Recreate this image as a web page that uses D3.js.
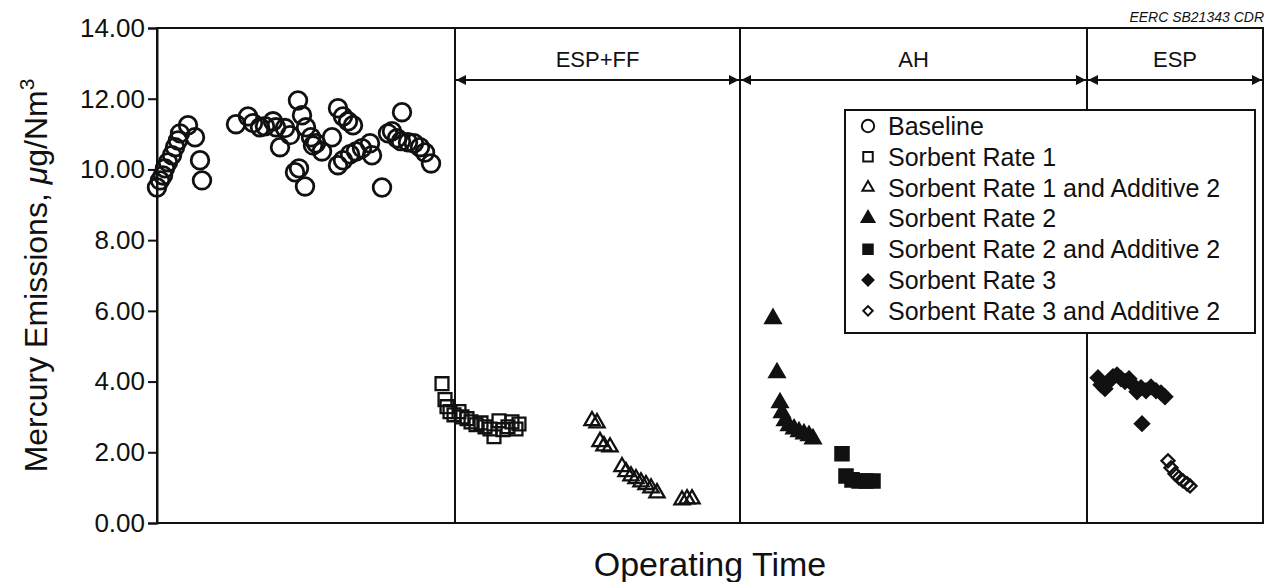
<!DOCTYPE html>
<html>
<head>
<meta charset="utf-8">
<script src="https://cdn.jsdelivr.net/npm/d3@7"></script>
<style>
  body { margin: 0; background: #fff; }
  text { font-family: "Liberation Sans", Arial, Helvetica, sans-serif; fill: #111; }
</style>
</head>
<body>
<svg id="chart"></svg>
<script>
// operating time (arbitrary units) vs mercury emissions, ug/Nm3
const baseline = [
  [0, 9.49], [1.5, 9.69], [3, 9.83], [4, 10.03], [5.5, 10.2], [7.5, 10.4], [9, 10.63],
  [10.5, 10.82], [11.5, 11.02], [15.5, 11.25], [19, 10.91], [21.5, 10.26], [22.5, 9.69],
  [39.5, 11.28], [45.5, 11.5], [48, 11.31], [51.5, 11.19], [54, 11.22], [58, 11.36],
  [59.5, 11.19], [61.5, 10.63], [64, 11.17], [66.5, 10.97], [69, 9.92], [70.5, 11.95],
  [71, 10.03], [72.5, 11.53], [74, 9.52], [74.5, 11.19], [77, 10.91], [78, 10.68],
  [79.5, 10.74], [82.5, 10.51], [87.5, 10.91], [90.5, 11.73], [90.5, 10.12], [93, 11.5],
  [93, 10.26], [95.5, 11.36], [96.5, 10.43], [98, 11.25], [99.5, 10.51], [102.5, 10.6],
  [106.5, 10.74], [107.5, 10.4], [112.5, 9.49], [115.5, 11.02], [117.5, 11.08], [120, 10.88],
  [122, 10.8], [122.5, 11.62], [125.5, 10.77], [128.5, 10.74], [131.5, 10.63], [134, 10.48],
  [137, 10.17]
];
const sorbent1 = [
  [142.5, 3.94], [144, 3.49], [145, 3.29], [146.5, 3.15], [148.5, 3.06], [151, 3.15],
  [152.5, 3.0], [155, 2.95], [157, 2.86], [159.5, 2.78], [162, 2.83], [164, 2.72],
  [166.5, 2.66], [168.5, 2.44], [171, 2.89], [173, 2.64], [175.5, 2.72], [177.5, 2.86],
  [179.5, 2.66], [181, 2.8]
];
const sorbent1Add2 = [
  [217.5, 2.89], [220, 2.83], [221.5, 2.3], [223.5, 2.18], [226.5, 2.15], [232.5, 1.59],
  [234.5, 1.45], [237, 1.33], [239.5, 1.25], [242, 1.16], [244.5, 1.08], [247, 0.99],
  [250, 0.85], [262.5, 0.65], [265, 0.68], [267.5, 0.68]
];
const sorbent2 = [
  [308, 5.78], [310, 4.25], [311.5, 3.4], [312.5, 3.12], [314, 2.89], [316, 2.75],
  [318.5, 2.66], [321, 2.58], [323.5, 2.52], [326, 2.47], [328, 2.38]
];
const sorbent2Add2 = [
  [342.5, 1.96], [344.5, 1.33], [347.5, 1.22], [351, 1.19], [354.5, 1.19], [358, 1.19]
];
const sorbent3 = [
  [470.5, 4.11], [472, 3.91], [474, 3.8], [476, 4.0], [478, 4.14], [480, 4.19], [482, 4.08],
  [484, 4.0], [486, 4.08], [488, 3.91], [490, 3.71], [492, 3.83], [492.5, 2.81],
  [494.5, 3.74], [497, 3.85], [499.5, 3.74], [502, 3.68], [504, 3.57]
];
const sorbent3Add2 = [
  [505.5, 1.76], [507, 1.56], [509, 1.39], [511, 1.28], [513, 1.19], [515, 1.11], [516.5, 1.05]
];

const seriesNames = [
  "Baseline", "Sorbent Rate 1", "Sorbent Rate 1 and Additive 2", "Sorbent Rate 2",
  "Sorbent Rate 2 and Additive 2", "Sorbent Rate 3", "Sorbent Rate 3 and Additive 2"
];
const seriesData = [baseline, sorbent1, sorbent1Add2, sorbent2, sorbent2Add2, sorbent3, sorbent3Add2];

// test sections along the time axis
const sectionLabels = ["ESP+FF", "AH", "ESP"];
const sectionStarts = [149, 291.5, 465];
const sectionEnds = [291.5, 465, 553];

const yTicks = [0, 2, 4, 6, 8, 10, 12, 14];

const width = 1266, height = 582;
const margin = { top: 28, right: 3, bottom: 59, left: 157 };

const svg = d3.select("#chart")
  .attr("width", width)
  .attr("height", height);

const x = d3.scaleLinear().domain([0, 553]).range([margin.left, width - margin.right]);
const y = d3.scaleLinear().domain([0, 14]).range([height - margin.bottom, margin.top]);

// marker styles: shape, filled?, size
const symbolStyles = [
  { type: d3.symbolCircle, size: 245, fill: false, rot: 0 },
  { type: d3.symbolSquare, size: 165, fill: false, rot: 0 },
  { type: d3.symbolTriangle, size: 100, fill: false, rot: 0 },
  { type: d3.symbolTriangle, size: 100, fill: true, rot: 0 },
  { type: d3.symbolSquare, size: 175, fill: true, rot: 0 },
  { type: d3.symbolSquare, size: 100, fill: true, rot: 45 },
  { type: d3.symbolSquare, size: 85, fill: false, rot: 45 }
];

// frame
svg.append("rect")
  .attr("x", x(0)).attr("y", y(14))
  .attr("width", x(553) - x(0)).attr("height", y(0) - y(14))
  .attr("fill", "none").attr("stroke", "#111").attr("stroke-width", 2);

// y axis
const yAxis = svg.append("g")
  .attr("transform", `translate(${x(0)},0)`)
  .call(d3.axisLeft(y).tickValues(yTicks).tickFormat(d3.format(".2f")).tickSize(9).tickPadding(3));
yAxis.select(".domain").attr("stroke", "#111").attr("stroke-width", 2);
yAxis.selectAll(".tick line").attr("stroke", "#111").attr("stroke-width", 2);
yAxis.selectAll(".tick text")
  .attr("font-size", 26)
  .attr("fill", "#111");

// section dividers and arrows
const defs = svg.append("defs");
defs.append("marker")
  .attr("id", "arrowEnd")
  .attr("viewBox", "0 0 10 10").attr("refX", 10).attr("refY", 5)
  .attr("markerWidth", 16).attr("markerHeight", 10)
  .attr("markerUnits", "userSpaceOnUse")
  .attr("orient", "auto")
  .append("path").attr("d", "M0,0L10,5L0,10Z").attr("fill", "#111");
defs.append("marker")
  .attr("id", "arrowStart")
  .attr("viewBox", "0 0 10 10").attr("refX", 0).attr("refY", 5)
  .attr("markerWidth", 16).attr("markerHeight", 10)
  .attr("markerUnits", "userSpaceOnUse")
  .attr("orient", "auto")
  .append("path").attr("d", "M10,0L0,5L10,10Z").attr("fill", "#111");

svg.selectAll(".divider")
  .data(sectionStarts)
  .enter()
  .append("line")
  .attr("class", "divider")
  .attr("x1", d => x(d)).attr("x2", d => x(d))
  .attr("y1", y(14)).attr("y2", y(0))
  .attr("stroke", "#111").attr("stroke-width", 2);

const arrowY = 80;
svg.selectAll(".arrow")
  .data(sectionLabels)
  .enter()
  .append("line")
  .attr("class", "arrow")
  .attr("x1", (d, i) => x(sectionStarts[i]) + 1)
  .attr("x2", (d, i) => x(sectionEnds[i]) - 1)
  .attr("y1", arrowY).attr("y2", arrowY)
  .attr("stroke", "#111").attr("stroke-width", 2)
  .attr("marker-start", "url(#arrowStart)")
  .attr("marker-end", "url(#arrowEnd)");

svg.selectAll(".section-label")
  .data(sectionLabels)
  .enter()
  .append("text")
  .attr("class", "section-label")
  .attr("x", (d, i) => (x(sectionStarts[i]) + x(sectionEnds[i])) / 2)
  .attr("y", 67)
  .attr("text-anchor", "middle")
  .attr("font-size", 22)
  .text(d => d);

// data points
seriesData.forEach((data, i) => {
  const st = symbolStyles[i];
  const sym = d3.symbol().type(st.type).size(st.size);
  svg.append("g")
    .selectAll("path")
    .data(data)
    .enter()
    .append("path")
    .attr("d", sym)
    .attr("transform", d => `translate(${x(d[0])},${y(d[1])}) rotate(${st.rot})`)
    .attr("fill", st.fill ? "#111" : "none")
    .attr("stroke", "#111")
    .attr("stroke-width", i === 0 ? 2.8 : 2.3);
});

// legend
const legend = svg.append("g").attr("transform", "translate(845,110)");
legend.append("rect")
  .attr("width", 410).attr("height", 223)
  .attr("fill", "#fff").attr("stroke", "#111").attr("stroke-width", 2);

const legendSizes = [120, 90, 55, 70, 90, 60, 45];
const items = legend.selectAll(".legend")
  .data(seriesNames)
  .enter()
  .append("g")
  .attr("class", "legend")
  .attr("transform", (d, i) => `translate(0, ${16 + i * 30.8})`);

items.append("path")
  .attr("d", (d, i) => d3.symbol().type(symbolStyles[i].type).size(legendSizes[i])())
  .attr("transform", (d, i) => `translate(23,0) rotate(${symbolStyles[i].rot})`)
  .attr("fill", (d, i) => symbolStyles[i].fill ? "#111" : "none")
  .attr("stroke", "#111")
  .attr("stroke-width", 2);

items.append("text")
  .attr("x", 43)
  .attr("y", 9)
  .attr("font-size", 25)
  .text(d => d);

// axis titles
svg.append("text")
  .attr("transform", `translate(47, ${(y(0) + y(14)) / 2}) rotate(-90)`)
  .attr("text-anchor", "middle")
  .attr("font-size", 32)
  .call(t => {
    t.append("tspan").text("Mercury Emissions, ");
    t.append("tspan").attr("font-style", "italic").text("\u03bc");
    t.append("tspan").text("g/Nm");
    t.append("tspan").attr("font-size", 21).attr("dy", -13).text("3");
  });

svg.append("text")
  .attr("x", (x(0) + x(553)) / 2)
  .attr("y", 576)
  .attr("text-anchor", "middle")
  .attr("font-size", 34)
  .text("Operating Time");

svg.append("text")
  .attr("x", width - 2)
  .attr("y", 22)
  .attr("text-anchor", "end")
  .attr("font-size", 14)
  .attr("font-style", "italic")
  .text("EERC SB21343 CDR");
</script>
</body>
</html>
